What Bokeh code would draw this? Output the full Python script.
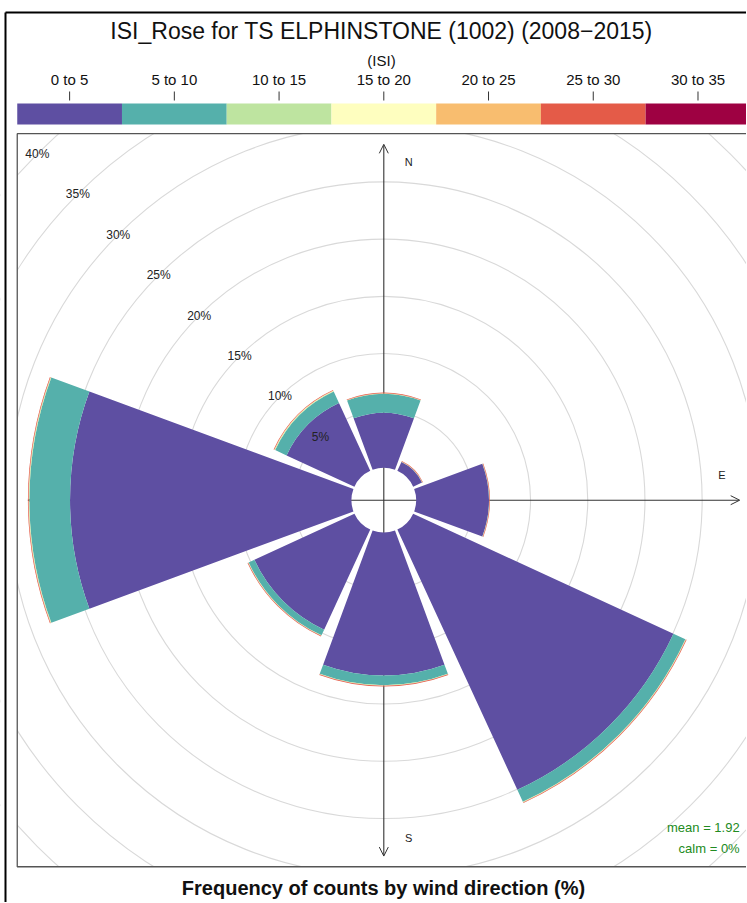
import numpy as np
from bokeh.plotting import figure
from bokeh.models import Range1d, ColumnDataSource, Label, Arrow, OpenHead
from bokeh.embed import file_html
from bokeh.resources import INLINE
from bokeh.core.properties import value

# ---------------- data ----------------
dir_labels = ["N", "NE", "E", "SE", "S", "SW", "W", "NW"]
directions = [0, 45, 90, 135, 180, 225, 270, 315]
isi_bins = ["0 to 5", "5 to 10", "10 to 15", "15 to 20", "20 to 25", "25 to 30", "30 to 35"]
bin_colors = ["#5E4FA2", "#55B0AB", "#BEE4A0", "#FEFEBF", "#F8BD6F", "#E45B48", "#9E0142"]

freq_0_5 = [4.80, 0.85, 6.35, 25.05, 12.50, 9.63, 24.60, 6.53]
freq_5_10 = [1.65, 0.02, 0.02, 1.15, 0.85, 0.55, 3.55, 1.10]
freq_10_15 = [0.03, 0.01, 0.01, 0.04, 0.03, 0.03, 0.05, 0.06]
freq_15_20 = [0.01, 0.00, 0.00, 0.01, 0.01, 0.01, 0.01, 0.02]
freq_20_25 = [0.01, 0.01, 0.01, 0.01, 0.01, 0.01, 0.01, 0.01]
freq_25_30 = [0.06, 0.05, 0.05, 0.06, 0.06, 0.06, 0.06, 0.06]
freq_30_35 = [0.00, 0.00, 0.00, 0.00, 0.00, 0.00, 0.00, 0.00]

grid_levels = [5, 10, 15, 20, 25, 30, 35, 40]
grid_labels = ["5%", "10%", "15%", "20%", "25%", "30%", "35%", "40%"]
mean_isi = 1.92
calm_pct = 0

title_text = "ISI_Rose for TS ELPHINSTONE (1002) (2008\u22122015)"
legend_title = "(ISI)"
x_label = "Frequency of counts by wind direction (%)"

# ---------------- geometry ----------------
W, H = 746, 902
PX = 11.44              # pixels per percent
CX, CY = 383.3, 499.7   # rose centre in figure pixels (from top-left)

def fx(xpix):
    return (xpix - CX) / PX

def fy(ypix):
    return (CY - ypix) / PX

stack = np.array([freq_0_5, freq_5_10, freq_10_15, freq_15_20,
                  freq_20_25, freq_25_30, freq_30_35])
totals = stack.sum(axis=0)
max_freq = totals.max()
off = 0.1 * max_freq
mymax = max_freq + off
half = 1.03 * mymax

x0, x1, y0, y1 = fx(0), fx(W), fy(H), fy(0)
p = figure(width=W, height=H, output_backend="svg", toolbar_location=None,
           x_range=Range1d(x0, x1), y_range=Range1d(y0, y1),
           min_border=0, outline_line_color=None)
p.axis.visible = False
p.grid.visible = False
p.background_fill_color = "white"
p.border_fill_color = "white"

FONT = "Liberation Sans"

# grid circles
ring_r = [off + g for g in grid_levels]
p.circle(x=0, y=0, radius=ring_r, fill_color=None, line_color="#D9D9D9",
         line_width=1.1, level="underlay")

# axes arrows
for xs, ys, xe, ye in [(0, -mymax, 0, mymax), (-mymax, 0, mymax, 0)]:
    arr = Arrow(x_start=xs, y_start=ys, x_end=xe, y_end=ye,
                start=OpenHead(size=9, line_color="#333333", line_width=1),
                end=OpenHead(size=9, line_color="#333333", line_width=1),
                line_color="#333333", line_width=1.1, level="underlay")
    p.add_layout(arr)

# mask everything outside the panel (clips the grid circles)
p.quad(left=[x0, x0, x0, half], right=[-half, x1, x1, x1],
       top=[y1, y1, -half, y1], bottom=[y0, half, y0, y0],
       fill_color="white", line_color=None)

# wedges
half_w = 0.9 * 45 / 2.0
cum = np.zeros(len(directions))
for j, col in enumerate(bin_colors):
    vals = stack[j]
    inner = off + cum
    outer = off + cum + vals
    mask = vals > 0
    d = np.array(directions)[mask]
    src = ColumnDataSource(dict(
        inner=inner[mask], outer=outer[mask],
        start=np.radians(90 - d - half_w), end=np.radians(90 - d + half_w)))
    p.annular_wedge(x=0, y=0, inner_radius="inner", outer_radius="outer",
                    start_angle="start", end_angle="end", direction="anticlock",
                    fill_color=col, line_color=None, source=src)
    cum = cum + vals

# ring labels along NW
s45 = np.sin(np.radians(45))
lab_src = ColumnDataSource(dict(
    x=[-(off + g) * s45 for g in grid_levels],
    y=[(off + g) * s45 for g in grid_levels],
    t=grid_labels))
p.text(x="x", y="y", text="t", source=lab_src, text_align="center",
       text_baseline="middle", text_font=value(FONT), text_font_size="12px",
       text_color="#222222")

# compass letters
for t, x, y in [("N", 0.07 * mymax, 0.95 * mymax),
                ("E", 0.95 * mymax, 0.07 * mymax),
                ("S", 0.07 * mymax, -0.95 * mymax)]:
    p.add_layout(Label(x=x, y=y, text=t, text_align="center", text_baseline="middle",
                       text_font=FONT, text_font_size="11px", text_color="#222222"))

# panel border
p.quad(left=-half, right=half, top=half, bottom=-half, fill_color=None,
       line_color="#555555", line_width=1.3)

# statistics
p.add_layout(Label(x=mymax, y=-mymax, text="calm = %d%%" % calm_pct, text_align="right",
                   text_baseline="bottom", text_font=FONT, text_font_size="13px",
                   text_color="forestgreen"))
p.add_layout(Label(x=mymax, y=-mymax + 21 / PX, text="mean = %.2f" % mean_isi,
                   text_align="right", text_baseline="bottom", text_font=FONT,
                   text_font_size="13px", text_color="forestgreen"))

# colour key
nb = len(isi_bins)
bw = 2 * half / nb
key_left = [-half + j * bw for j in range(nb)]
key_src = ColumnDataSource(dict(
    left=key_left, right=[k + bw for k in key_left], color=bin_colors,
    mid=[k + bw / 2 for k in key_left], lab=isi_bins))
p.quad(left="left", right="right", top=fy(103), bottom=fy(124), fill_color="color",
       line_color=None, source=key_src)
p.segment(x0="mid", x1="mid", y0=fy(91), y1=fy(100), line_color="#333333",
          line_width=1, source=key_src)
p.text(x="mid", y=fy(79), text="lab", source=key_src, text_align="center",
       text_baseline="middle", text_font=value(FONT), text_font_size="15px",
       text_color="#111111")
p.add_layout(Label(x=fx(381), y=fy(60), text=legend_title, text_align="center",
                   text_baseline="middle", text_font=FONT, text_font_size="15px",
                   text_color="#111111"))

# title and x label
p.add_layout(Label(x=fx(381), y=fy(30), text=title_text, text_align="center",
                   text_baseline="middle", text_font=FONT, text_font_size="23px",
                   text_color="#111111"))
p.add_layout(Label(x=fx(383), y=fy(887), text=x_label, text_align="center",
                   text_baseline="middle", text_font=FONT, text_font_size="20px",
                   text_font_style="bold", text_color="#111111"))

# outer frame (left and top)
p.segment(x0=[fx(5), fx(5)], y0=[fy(12), fy(12)], x1=[fx(5), fx(W)], y1=[fy(H), fy(12)],
          line_color="black", line_width=2)

open("out.html", "w").write(file_html(p, INLINE))
